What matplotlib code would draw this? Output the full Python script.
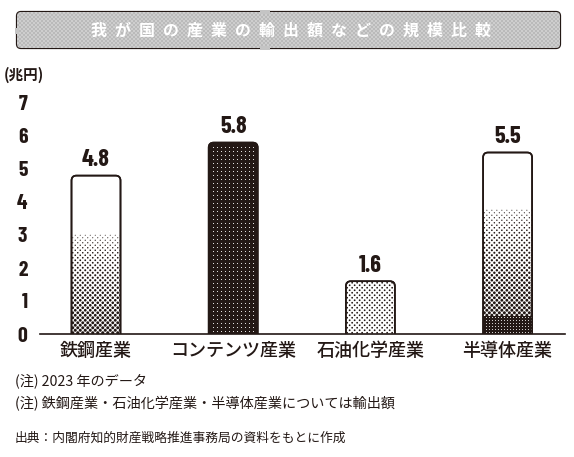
import numpy as np
import matplotlib
matplotlib.use('Agg')
import matplotlib.pyplot as plt
from matplotlib import font_manager as fm
from matplotlib.patches import FancyBboxPatch, Rectangle

# data
categories = ['鉄鋼産業', 'コンテンツ産業', '石油化学産業', '半導体産業']
values = [4.8, 5.8, 1.6, 5.5]
value_labels = ['4.8', '5.8', '1.6', '5.5']
y_ticks = [0, 1, 2, 3, 4, 5, 6, 7]
title = '我が国の産業の輸出額などの規模比較'
unit_label = '(兆円)'
notes = ['(注) 2023 年のデータ',
         '(注) 鉄鋼産業・石油化学産業・半導体産業については輸出額']
source = '出典：内閣府知的財産戦略推進事務局の資料をもとに作成'

JP = ['Noto Sans CJK JP', 'DejaVu Sans']
DARK = '#231815'


def pick_narrow_bold():
    prefs = [('Barlow Condensed', 700), ('Barlow Condensed', 600), ('PT Sans Narrow', 700),
             ('Fjalla One', 400), ('Roboto Condensed', 700), ('Oswald', 700),
             ('Liberation Sans Narrow', 700)]
    wmap = {'bold': 700, 'semibold': 600, 'demibold': 600, 'normal': 400, 'regular': 400}
    for name, w in prefs:
        for f in fm.fontManager.ttflist:
            fw = f.weight if isinstance(f.weight, int) else wmap.get(str(f.weight).lower(), 400)
            if f.name == name and fw == w and f.style == 'normal':
                return fm.FontProperties(fname=f.fname)
    return fm.FontProperties(family='DejaVu Sans', weight='bold')


NUM = pick_narrow_bold()

W, H, DPI = 574, 457, 100
PX_X = 137.2   # pixels per category unit
PX_Y = 33.0    # pixels per 兆円


def density(kind, y):
    """Share of dark ink at height y (兆円)."""
    if kind == 'steel':
        return np.where(y > 3.0, 0.0, 0.06 + (3.0 - y) / 3.0 * 0.54)
    if kind == 'chem':
        return np.full_like(y, 0.2)
    if kind == 'semi':
        return np.where(y > 3.8, 0.0, 0.06 + (3.8 - y) / 3.25 * 0.54)
    return np.zeros_like(y)


def halftone_dots(ax, xc, top, kind, clip):
    g = 2.5  # px
    nx = int(49 / g) + 1
    ny = int(top * PX_Y / g) + 1
    ii, jj = np.meshgrid(np.arange(ny), np.arange(nx), indexing='ij')
    keep = (ii + jj) % 2 == 0
    xs = xc - 24.5 / PX_X + (jj[keep] + 0.5) * g / PX_X
    ys = (ii[keep] + 0.5) * g / PX_Y
    d = density(kind, ys)
    diam_px = np.sqrt(np.clip(d, 0, 0.62) * 2 * g * g * 4 / np.pi)
    s = (diam_px * 72 / DPI) ** 2
    m = s > 0.01
    sc = ax.scatter(xs[m], ys[m], s=s[m], c=DARK, marker='o', linewidths=0, zorder=2)
    sc.set_clip_path(clip)


def white_dots(ax, xc, y_lo, y_hi, clip, step=4.0, size=0.9):
    nx = int(49 / step)
    ny = int((y_hi - y_lo) * PX_Y / step)
    ii, jj = np.meshgrid(np.arange(ny), np.arange(nx), indexing='ij')
    xs = xc - 24.5 / PX_X + (jj.ravel() + 1.0) * step / PX_X
    ys = y_lo + (ii.ravel() + 0.7) * step / PX_Y
    sc = ax.scatter(xs, ys, s=(size * 72 / DPI) ** 2, c='white', marker='o',
                    linewidths=0, zorder=2.5)
    sc.set_clip_path(clip)


fig = plt.figure(figsize=(W / DPI, H / DPI), dpi=DPI)
fig.patch.set_facecolor('white')

ov = fig.add_axes([0, 0, 1, 1])
ov.set_xlim(0, W)
ov.set_ylim(H, 0)
ov.axis('off')

# title box
box = FancyBboxPatch((17, 12), 543, 36, boxstyle='round,pad=0,rounding_size=4',
                     facecolor='#bdbdbd', edgecolor=DARK, lw=1.6, zorder=1)
ov.add_patch(box)
ii, jj = np.meshgrid(np.arange(36), np.arange(543), indexing='ij')
tex = np.where((ii // 2 + jj // 2) % 2 == 0, 0.73, 0.81)
im = ov.imshow(np.dstack([tex] * 3), extent=[17, 560, 48, 12], zorder=2,
               interpolation='nearest', aspect='auto')
im.set_clip_path(box)
for (x, y, w, h) in [(260, 10, 10, 4), (260, 46, 10, 4), (15, 28, 4, 6)]:
    ov.add_patch(Rectangle((x, y), w, h, facecolor='#c4c4c4', edgecolor='none', zorder=3))
# letter-spaced title (en spaces between characters)
ov.text(291, 31, '\u2002'.join(title), family=JP, fontsize=11.5, fontweight='bold',
        color='white', ha='center', va='center', zorder=4)

ov.text(4, 75, unit_label, family=JP, fontsize=10.5, fontweight='bold',
        color=DARK, ha='left', va='center')
ov.text(15, 381, notes[0], family=JP, fontsize=10.2, color=DARK, ha='left', va='center')
ov.text(15, 404, notes[1], family=JP, fontsize=10.2, color=DARK, ha='left', va='center')
ov.text(15, 438, source, family=JP, fontsize=9.2, color=DARK, ha='left', va='center')

# main chart axes: x 40..565 px, y 103 (7) .. 334 (0) px
left, right = 40, 565
y0, y7 = 334, 103
ax = fig.add_axes([left / W, (H - y0) / H, (right - left) / W, (y0 - y7) / H])
ax.patch.set_alpha(0)
ax.set_ylim(0, 7)
x0 = (left - 96) / PX_X
ax.set_xlim(x0, x0 + (right - left) / PX_X)

bar_w = 49 / PX_X
kinds = ['steel', 'content', 'chem', 'semi']
r = 5 / PX_X
aspect = PX_X / PX_Y
for i, (v, kind) in enumerate(zip(values, kinds)):
    xl = i - bar_w / 2
    outline = FancyBboxPatch((xl, -0.5), bar_w, v + 0.5,
                             boxstyle=f'round,pad=0,rounding_size={r}',
                             mutation_aspect=aspect,
                             facecolor='white', edgecolor=DARK, lw=1.2, zorder=1)
    ax.add_patch(outline)
    clip = FancyBboxPatch((xl, -0.5), bar_w, v + 0.5,
                          boxstyle=f'round,pad=0,rounding_size={r}',
                          mutation_aspect=aspect,
                          facecolor='none', edgecolor=DARK, lw=1.2, zorder=3)
    ax.add_patch(clip)
    if kind == 'content':
        outline.set_facecolor(DARK)
        white_dots(ax, i, 0, v, clip)
    else:
        halftone_dots(ax, i, v, kind, clip)
        if kind == 'semi':
            band = Rectangle((xl, 0), bar_w, 0.55, facecolor=DARK, edgecolor='none', zorder=2.2)
            ax.add_patch(band)
            band.set_clip_path(clip)
            white_dots(ax, i, 0, 0.55, clip, step=3.0, size=1.0)
    ax.text(i, v + 0.14, value_labels[i], fontproperties=NUM, fontsize=17.5,
            color=DARK, ha='center', va='bottom')

for s in ['top', 'right', 'left']:
    ax.spines[s].set_visible(False)
ax.spines['bottom'].set_color(DARK)
ax.spines['bottom'].set_linewidth(1.2)
ax.spines['bottom'].set_zorder(5)

ax.set_yticks(y_ticks)
ax.set_yticklabels([str(t) for t in y_ticks], fontproperties=NUM, color=DARK)
for lab in ax.get_yticklabels():
    lab.set_fontsize(15.5)
ax.tick_params(axis='y', length=0, pad=9)
ax.set_xticks(range(len(categories)))
ax.set_xticklabels(categories, family=JP, fontsize=13, fontweight='medium', color=DARK)
ax.tick_params(axis='x', length=0, pad=6)

fig.savefig('out.png', dpi=DPI, facecolor='white')
